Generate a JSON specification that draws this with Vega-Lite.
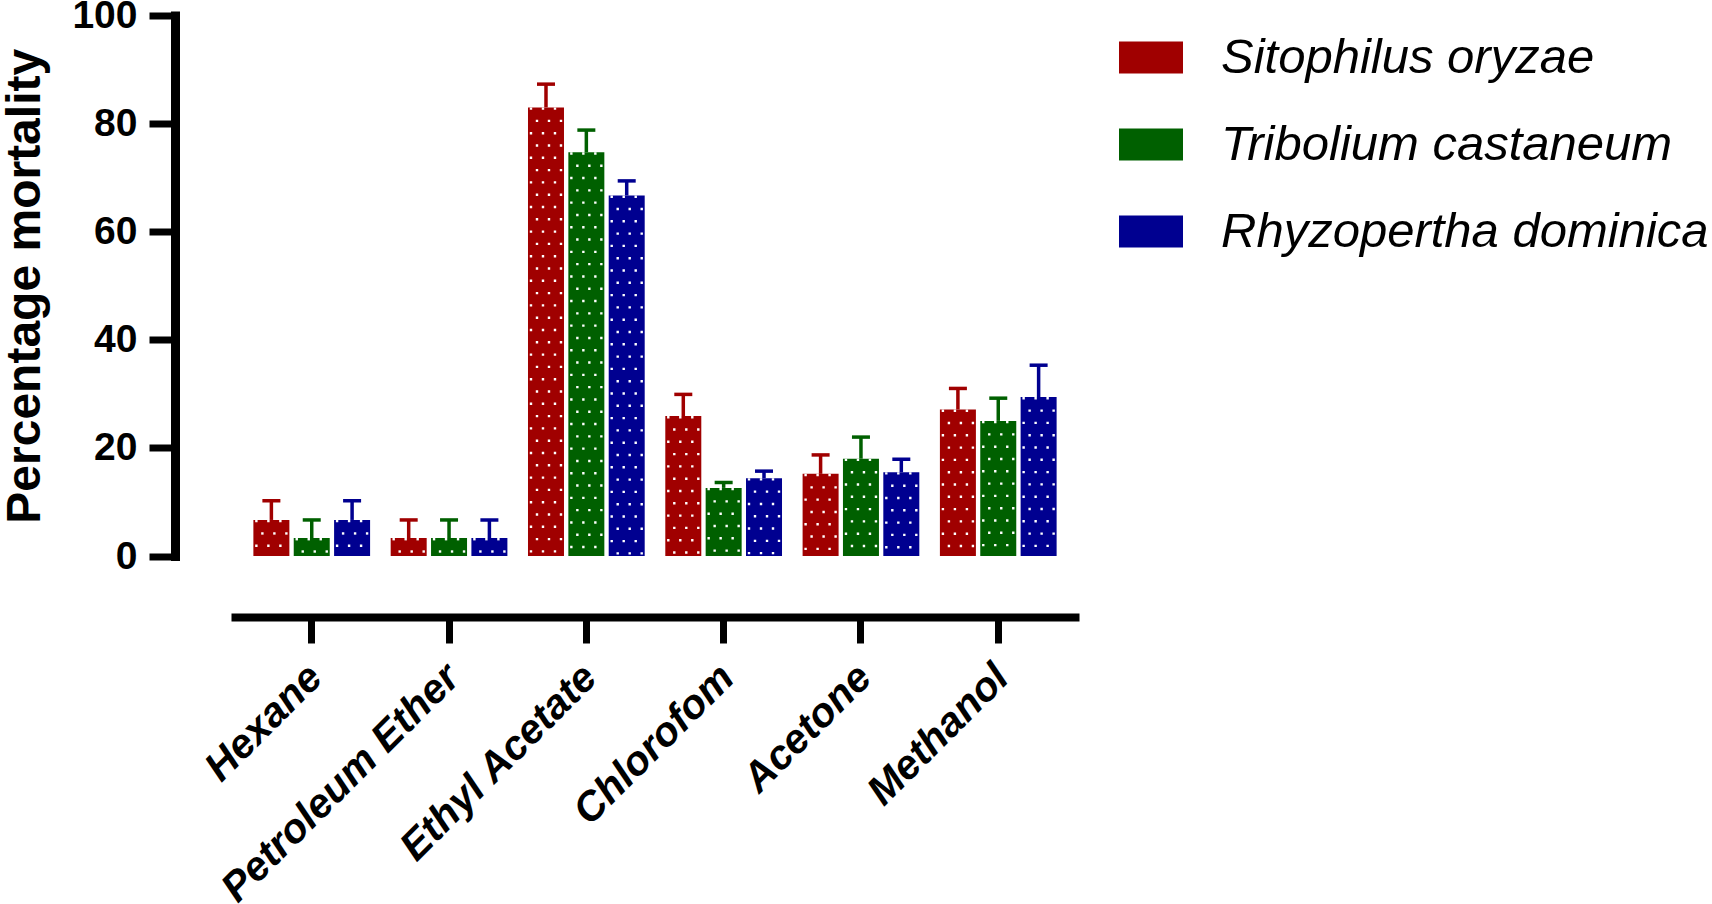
{
  "$schema": "https://vega.github.io/schema/vega-lite/v6.json",
  "autosize": "none",
  "padding": {"left": 231, "top": 15.5, "right": 633, "bottom": 348},
  "width": 848,
  "height": 540.5,
  "data": {
    "values": [
      {"solvent": "Hexane", "species": "Sitophilus oryzae", "mean": 6.67, "upper": 10.2},
      {"solvent": "Hexane", "species": "Tribolium castaneum", "mean": 3.33, "upper": 6.67},
      {"solvent": "Hexane", "species": "Rhyzopertha dominica", "mean": 6.67, "upper": 10.2},
      {"solvent": "Petroleum Ether", "species": "Sitophilus oryzae", "mean": 3.33, "upper": 6.67},
      {"solvent": "Petroleum Ether", "species": "Tribolium castaneum", "mean": 3.33, "upper": 6.67},
      {"solvent": "Petroleum Ether", "species": "Rhyzopertha dominica", "mean": 3.33, "upper": 6.67},
      {"solvent": "Ethyl Acetate", "species": "Sitophilus oryzae", "mean": 83.0, "upper": 87.3},
      {"solvent": "Ethyl Acetate", "species": "Tribolium castaneum", "mean": 74.7, "upper": 78.8},
      {"solvent": "Ethyl Acetate", "species": "Rhyzopertha dominica", "mean": 66.7, "upper": 69.4},
      {"solvent": "Chlorofom", "species": "Sitophilus oryzae", "mean": 25.9, "upper": 29.9},
      {"solvent": "Chlorofom", "species": "Tribolium castaneum", "mean": 12.6, "upper": 13.6},
      {"solvent": "Chlorofom", "species": "Rhyzopertha dominica", "mean": 14.4, "upper": 15.7},
      {"solvent": "Acetone", "species": "Sitophilus oryzae", "mean": 15.2, "upper": 18.7},
      {"solvent": "Acetone", "species": "Tribolium castaneum", "mean": 18.0, "upper": 22.0},
      {"solvent": "Acetone", "species": "Rhyzopertha dominica", "mean": 15.5, "upper": 17.9},
      {"solvent": "Methanol", "species": "Sitophilus oryzae", "mean": 27.1, "upper": 31.0},
      {"solvent": "Methanol", "species": "Tribolium castaneum", "mean": 25.0, "upper": 29.2},
      {"solvent": "Methanol", "species": "Rhyzopertha dominica", "mean": 29.4, "upper": 35.3}
    ]
  },
  "encoding": {
    "x": {
      "field": "solvent",
      "type": "nominal",
      "sort": ["Hexane", "Petroleum Ether", "Ethyl Acetate", "Chlorofom", "Acetone", "Methanol"],
      "scale": {"paddingInner": 0.15, "paddingOuter": 0.163},
      "axis": {
        "title": null,
        "offset": 61,
        "labelAngle": -45,
        "labelFont": "Liberation Sans",
        "labelFontSize": 41,
        "labelFontWeight": "bold",
        "labelFontStyle": "italic",
        "labelColor": "black",
        "labelPadding": 14,
        "labelOffset": -10,
        "labelLimit": 0,
        "tickSize": 26,
        "tickWidth": 7,
        "tickColor": "black",
        "domainWidth": 8,
        "domainColor": "black"
      }
    }
  },
  "layer": [
    {
      "mark": {"type": "bar"},
      "encoding": {
        "xOffset": {
          "field": "species",
          "sort": ["Sitophilus oryzae", "Tribolium castaneum", "Rhyzopertha dominica"],
          "scale": {"range": [0, 116.71], "paddingInner": 0.108, "paddingOuter": 0}
        },
        "y": {
          "field": "mean",
          "type": "quantitative",
          "scale": {"domain": [0, 100], "nice": false},
          "axis": {
            "title": "Percentage mortality",
            "titleFont": "Liberation Sans",
            "titleFontSize": 48,
            "titleFontWeight": "bold",
            "titleColor": "black",
            "titlePadding": 22,
            "offset": 56,
            "values": [0, 20, 40, 60, 80, 100],
            "labelFont": "Liberation Sans",
            "labelFontSize": 39,
            "labelFontWeight": "bold",
            "labelColor": "black",
            "labelPadding": 12,
            "tickSize": 26,
            "tickWidth": 7,
            "tickColor": "black",
            "domainWidth": 9,
            "domainColor": "black",
            "domainCap": "square"
          }
        },
        "color": {
          "field": "species",
          "type": "nominal",
          "scale": {
            "domain": ["Sitophilus oryzae", "Tribolium castaneum", "Rhyzopertha dominica"],
            "range": ["#a00000", "#006000", "#000090"]
          },
          "legend": {
            "title": null,
            "orient": "none",
            "legendX": 888,
            "legendY": 10,
            "symbolType": "M-1,-0.5H1V0.5H-1Z",
            "symbolSize": 4096,
            "symbolStrokeWidth": 0,
            "symbolOpacity": 1,
            "labelFont": "Liberation Sans",
            "labelFontSize": 49,
            "labelFontStyle": "italic",
            "labelColor": "black",
            "labelOffset": 38,
            "labelLimit": 700,
            "rowPadding": 30
          }
        }
      }
    },
    {
      "mark": {"type": "rule", "color": "white", "strokeWidth": 2.4, "strokeDash": [2.4, 22.2]},
      "encoding": {
        "xOffset": {
          "field": "species",
          "sort": ["Sitophilus oryzae", "Tribolium castaneum", "Rhyzopertha dominica"],
          "scale": {"range": [-15, 101.71], "paddingInner": 0.108, "paddingOuter": 0}
        },
        "y": {"field": "mean", "type": "quantitative"},
        "y2": {"datum": 0}
      }
    },
    {
      "mark": {"type": "rule", "color": "white", "strokeWidth": 2.4, "strokeDash": [2.4, 22.2], "strokeDashOffset": 12.3},
      "encoding": {
        "xOffset": {
          "field": "species",
          "sort": ["Sitophilus oryzae", "Tribolium castaneum", "Rhyzopertha dominica"],
          "scale": {"range": [-9, 107.71], "paddingInner": 0.108, "paddingOuter": 0}
        },
        "y": {"field": "mean", "type": "quantitative"},
        "y2": {"datum": 0}
      }
    },
    {
      "mark": {"type": "rule", "color": "white", "strokeWidth": 2.4, "strokeDash": [2.4, 22.2]},
      "encoding": {
        "xOffset": {
          "field": "species",
          "sort": ["Sitophilus oryzae", "Tribolium castaneum", "Rhyzopertha dominica"],
          "scale": {"range": [-3, 113.71], "paddingInner": 0.108, "paddingOuter": 0}
        },
        "y": {"field": "mean", "type": "quantitative"},
        "y2": {"datum": 0}
      }
    },
    {
      "mark": {"type": "rule", "color": "white", "strokeWidth": 2.4, "strokeDash": [2.4, 22.2], "strokeDashOffset": 12.3},
      "encoding": {
        "xOffset": {
          "field": "species",
          "sort": ["Sitophilus oryzae", "Tribolium castaneum", "Rhyzopertha dominica"],
          "scale": {"range": [3, 119.71], "paddingInner": 0.108, "paddingOuter": 0}
        },
        "y": {"field": "mean", "type": "quantitative"},
        "y2": {"datum": 0}
      }
    },
    {
      "mark": {"type": "rule", "color": "white", "strokeWidth": 2.4, "strokeDash": [2.4, 22.2]},
      "encoding": {
        "xOffset": {
          "field": "species",
          "sort": ["Sitophilus oryzae", "Tribolium castaneum", "Rhyzopertha dominica"],
          "scale": {"range": [9, 125.71], "paddingInner": 0.108, "paddingOuter": 0}
        },
        "y": {"field": "mean", "type": "quantitative"},
        "y2": {"datum": 0}
      }
    },
    {
      "mark": {"type": "rule", "color": "white", "strokeWidth": 2.4, "strokeDash": [2.4, 22.2], "strokeDashOffset": 12.3},
      "encoding": {
        "xOffset": {
          "field": "species",
          "sort": ["Sitophilus oryzae", "Tribolium castaneum", "Rhyzopertha dominica"],
          "scale": {"range": [15, 131.71], "paddingInner": 0.108, "paddingOuter": 0}
        },
        "y": {"field": "mean", "type": "quantitative"},
        "y2": {"datum": 0}
      }
    },
    {
      "mark": {"type": "rule", "strokeWidth": 3.5},
      "encoding": {
        "xOffset": {
          "field": "species",
          "sort": ["Sitophilus oryzae", "Tribolium castaneum", "Rhyzopertha dominica"],
          "scale": {"range": [0, 116.71], "paddingInner": 0.108, "paddingOuter": 0}
        },
        "y": {"field": "mean", "type": "quantitative"},
        "y2": {"field": "upper"},
        "color": {"field": "species", "type": "nominal", "legend": null}
      }
    },
    {
      "mark": {"type": "tick", "orient": "horizontal", "size": 18, "thickness": 3.5, "opacity": 1},
      "encoding": {
        "xOffset": {
          "field": "species",
          "sort": ["Sitophilus oryzae", "Tribolium castaneum", "Rhyzopertha dominica"],
          "scale": {"range": [0, 116.71], "paddingInner": 0.108, "paddingOuter": 0}
        },
        "y": {"field": "upper", "type": "quantitative"},
        "color": {"field": "species", "type": "nominal", "legend": null}
      }
    }
  ],
  "resolve": {"scale": {"xOffset": "independent"}},
  "config": {
    "view": {"stroke": null},
    "axis": {"grid": false}
  }
}
